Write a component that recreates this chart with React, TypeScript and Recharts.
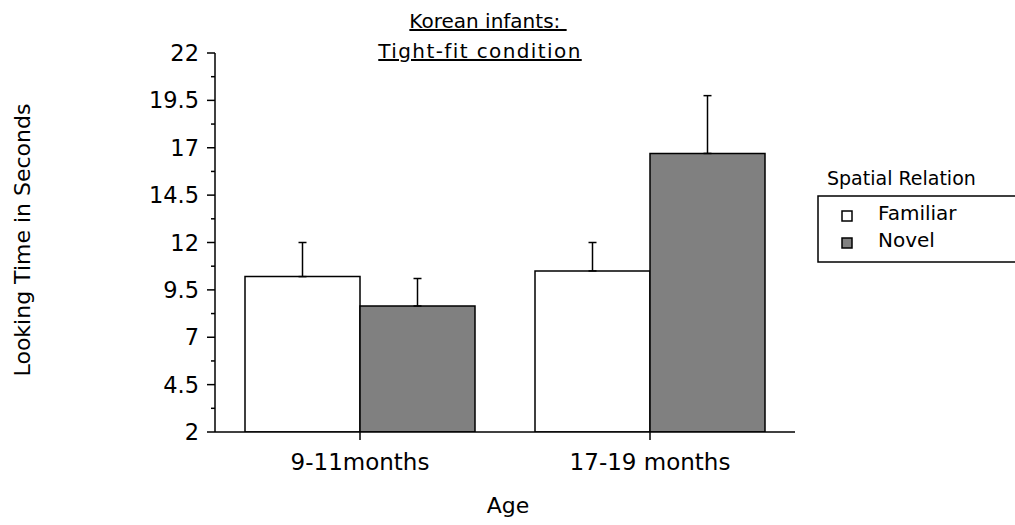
import React from 'react';
import { BarChart, Bar, XAxis, YAxis, ErrorBar } from 'recharts';

const categories = ['9-11months', '17-19 months'];
const familiarValues = [10.2, 10.5];
const familiarErrUp = [1.8, 1.5];
const novelValues = [8.65, 16.7];
const novelErrUp = [1.45, 3.05];
const majorTicks = [2, 4.5, 7, 9.5, 12, 14.5, 17, 19.5, 22];
const minorTicks = [3.25, 5.75, 8.25, 10.75, 13.25, 15.75, 18.25, 20.75];
const seriesNames = ['Familiar', 'Novel'];
const seriesFills = ['#ffffff', '#808080'];
const titleLines = ['Korean infants: ', 'Tight-fit condition'];
const xAxisTitle = 'Age';
const yAxisTitle = 'Looking Time in Seconds';
const legendTitle = 'Spatial Relation';

const data = categories.map((c, i) => ({
  cat: c,
  familiar: familiarValues[i],
  familiarErr: [0, familiarErrUp[i]],
  novel: novelValues[i],
  novelErr: [0, novelErrUp[i]],
}));

const allTicks = [...majorTicks, ...minorTicks].sort((a, b) => a - b);
const FONT = '"DejaVu Sans", Verdana, sans-serif';

const YTick = (props: any) => {
  const { x, y, payload } = props;
  const isMajor = majorTicks.includes(payload.value);
  return (
    <g>
      <line x1={x - (isMajor ? 8 : 4)} x2={x} y1={y} y2={y} stroke="#000" strokeWidth={1.5} />
      {isMajor && (
        <text x={x - 16} y={y} dy={8} textAnchor="end" fontSize={22.5} fontFamily={FONT} fill="#000">
          {payload.value}
        </text>
      )}
    </g>
  );
};

const XTick = (props: any) => {
  const { x, y, payload } = props;
  return (
    <text x={x} y={y} dy={30} textAnchor="middle" fontSize={23} fontFamily={FONT} fill="#000">
      {payload.value}
    </text>
  );
};

export default function App() {
  return (
    <div style={{ position: 'absolute', left: 0, top: 0, width: 1015, height: 525, background: '#fff', fontFamily: FONT, overflow: 'hidden' }}>
      <BarChart
        width={1015}
        height={525}
        data={data}
        margin={{ top: 53, right: 220, bottom: 63, left: 155 }}
        barGap={0}
        barCategoryGap={30}
      >
        <XAxis
          dataKey="cat"
          height={30}
          tickSize={8}
          tickMargin={0}
          axisLine={{ stroke: '#000', strokeWidth: 1.5 }}
          tickLine={{ stroke: '#000', strokeWidth: 1.5 }}
          tick={<XTick />}
        />
        <YAxis
          width={60}
          domain={[2, 22]}
          ticks={allTicks}
          interval={0}
          tickSize={0}
          tickMargin={0}
          tickLine={false}
          axisLine={{ stroke: '#000', strokeWidth: 1.5 }}
          tick={<YTick />}
          allowDataOverflow
        />
        <Bar dataKey="familiar" name={seriesNames[0]} fill={seriesFills[0]} stroke="#000" strokeWidth={1.5} isAnimationActive={false}>
          <ErrorBar dataKey="familiarErr" direction="y" width={4} stroke="#000" strokeWidth={1.5} />
        </Bar>
        <Bar dataKey="novel" name={seriesNames[1]} fill={seriesFills[1]} stroke="#000" strokeWidth={1.5} isAnimationActive={false}>
          <ErrorBar dataKey="novelErr" direction="y" width={4} stroke="#000" strokeWidth={1.5} />
        </Bar>
      </BarChart>

      <div style={{ position: 'absolute', left: 488, top: 6, transform: 'translateX(-50%)', fontSize: 20, lineHeight: '30px', color: '#000', whiteSpace: 'pre', textDecoration: 'underline' }}>
        {titleLines[0]}
      </div>
      <div style={{ position: 'absolute', left: 480, top: 36, transform: 'translateX(-50%)', fontSize: 20, lineHeight: '30px', color: '#000', whiteSpace: 'nowrap', textDecoration: 'underline', letterSpacing: '1.4px' }}>
        {titleLines[1]}
      </div>

      <svg width={1015} height={525} style={{ position: 'absolute', left: 0, top: 0, pointerEvents: 'none' }}>
        <text x={0} y={0} transform="translate(30 240) rotate(-90)" textAnchor="middle" fontSize={22} fontFamily={FONT} fill="#000">
          {yAxisTitle}
        </text>
        <text x={508} y={513} textAnchor="middle" fontSize={22} fontFamily={FONT} fill="#000">
          {xAxisTitle}
        </text>
        <text x={827} y={185} fontSize={19} fontFamily={FONT} fill="#000">
          {legendTitle}
        </text>
        <rect x={818} y={196} width={220} height={66} fill="none" stroke="#000" strokeWidth={1.5} />
        {seriesNames.map((n, i) => (
          <g key={n}>
            <rect x={842} y={211 + i * 27} width={10} height={10} fill={seriesFills[i]} stroke="#000" strokeWidth={1.5} />
            <text x={878} y={220 + i * 27} fontSize={20} fontFamily={FONT} fill="#000">
              {n}
            </text>
          </g>
        ))}
      </svg>
    </div>
  );
}
